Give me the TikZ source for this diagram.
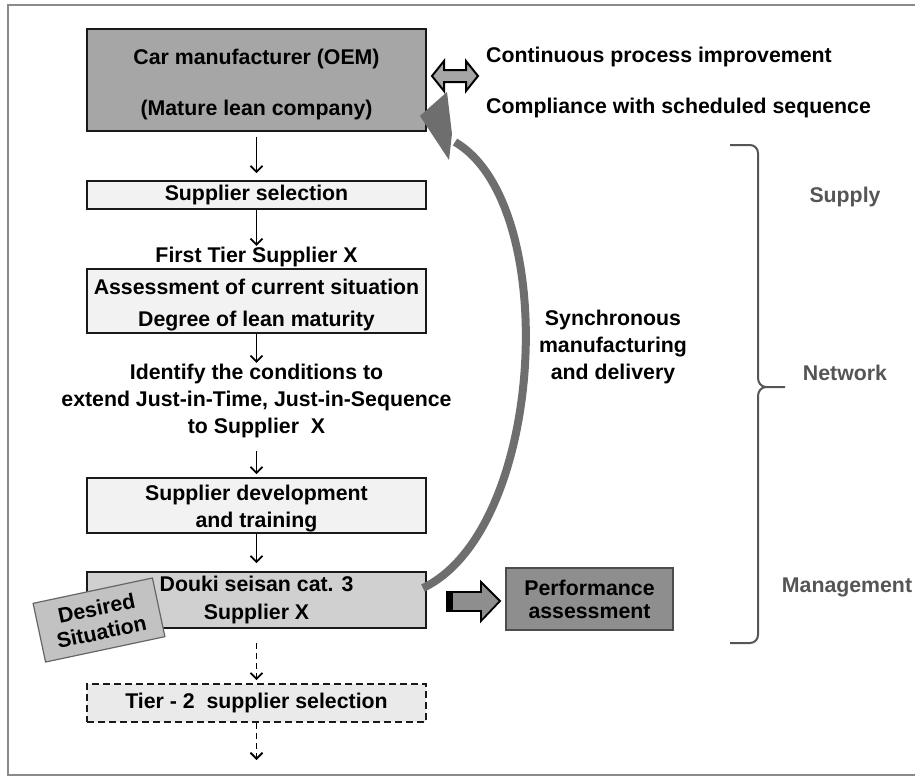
\documentclass[tikz,border=0pt]{standalone}
\usepackage{fontspec}
\setmainfont{Liberation Sans}
\usetikzlibrary{arrows.meta}
\definecolor{oemgray}{HTML}{A6A6A6}
\definecolor{lightbox}{HTML}{F2F2F2}
\definecolor{tierbox}{HTML}{EAEAEA}
\definecolor{doukigray}{HTML}{D0D0D0}
\definecolor{perfgray}{HTML}{8E8E8E}
\definecolor{tagray}{HTML}{C2C2C2}
\definecolor{curvegray}{HTML}{6E6E6E}
\definecolor{labgray}{HTML}{555555}
\definecolor{framegray}{HTML}{8A8A8A}
\tikzset{
  txt/.style={font=\fontsize{21.3pt}{25pt}\selectfont\bfseries, align=center, inner sep=0pt},
  flowbox/.style={txt, draw=black!90, line width=1.8pt, minimum width=339pt},
  dashbox/.style={txt, draw=black!90, line width=1.6pt, dash pattern=on 7pt off 4pt, minimum width=339pt},
  flowarrow/.style={line width=1.8pt, -{Straight Barb[length=6pt,width=12pt]}},
  dasharrow/.style={flowarrow, dash pattern=on 6pt off 4pt},
  sidelab/.style={txt, text=labgray},
}
\begin{document}
\begin{tikzpicture}[x=1pt,y=-1pt]
\useasboundingbox (0,0) rectangle (915,777);
% frame
\draw[framegray, line width=2.5pt] (930,5) -- (8,5) -- (8,775) -- (930,775);

% main flow
\node[flowbox, fill=oemgray, minimum height=102pt] (oem) at (256.5,80)
  {\rule{0pt}{24pt}Car manufacturer (OEM)\\[26pt](Mature lean company)};
\node[flowbox, fill=lightbox, minimum height=28pt] (supsel) at (256.5,195) {Supplier selection};
\node[txt] (first) at (256.5,257) {First Tier Supplier X};
\node[flowbox, fill=lightbox, minimum height=64pt] (assess) at (256.5,301)
  {\rule{0pt}{23pt}Assessment of current situation\\[7pt]Degree of lean maturity};
\node[txt] (identify) at (256.5,401)
  {Identify the conditions to\\[2pt]extend Just-in-Time, Just-in-Sequence\\[2pt]to Supplier\ \ X};
\node[flowbox, fill=lightbox, minimum height=55pt] (dev) at (256.5,505.5)
  {\rule{0pt}{21pt}Supplier development\\[2pt]and training};
\node[flowbox, fill=doukigray, minimum height=56pt] (douki) at (256.5,600)
  {Douki seisan cat. 3\\[3pt]Supplier X};
\node[dashbox, fill=tierbox, minimum height=38pt] (tier2) at (256.5,703)
  {Tier - 2\ \ supplier selection};
\coordinate (endflow) at (256.5,760);

\node[txt, draw=black!60, line width=1.2pt, fill=tagray, rotate=12,
  minimum width=122pt, minimum height=60pt] (desired) at (99,620)
  {Desired\\[-1pt]Situation};

% flow arrows
\draw[flowarrow, shorten <=5pt, shorten >=7pt] (oem) -- (supsel);
\draw[flowarrow, shorten >=1pt] (supsel) -- (first);
\draw[flowarrow, shorten >=1pt] (assess) -- (identify.north);
\draw[flowarrow, shorten <=13pt, shorten >=3pt] (identify) -- (dev);
\draw[flowarrow, shorten >=8pt] (dev) -- (douki);
\draw[dasharrow, shorten <=14pt, shorten >=3pt] (douki) -- (tier2);
\draw[dasharrow] (tier2) -- (endflow);

% top right texts and double arrow
\node[txt, anchor=west] (cpi) at (486,57) {Continuous process improvement};
\node[txt, anchor=west] (csq) at (486,108) {Compliance with scheduled sequence};
\draw[fill=oemgray, draw=black, line width=2pt, line join=miter]
  (432,76) -- (444,61) -- (444,70) -- (466,70) -- (466,61) -- (478,76)
  -- (466,91) -- (466,82) -- (444,82) -- (444,91) -- cycle;

% big curved arrow
\coordinate (curveend) at (455,142);
\draw[curvegray, line width=8pt]
  ([shift={(-4,-12)}]douki.east) .. controls (545,530) and (562,205) .. (curveend);
\fill[curvegray, line join=round] ([shift={(-7,-16)}]oem.south east) -- (447,92) -- (452,134) -- (449,160) -- cycle;

\node[txt] (sync) at (613,347) {Synchronous\\[2pt]manufacturing\\[2pt]and delivery};

% performance
\node[txt, draw=black!70, line width=1.2pt, fill=perfgray, minimum width=167pt, minimum height=62pt] (perf) at (589.5,599)
  {Performance\\[-2pt]assessment};
\draw[fill=perfgray, draw=black, line width=1.8pt, line join=miter]
  (452,592) -- (481,592) -- (481,582) -- (500,601) -- (481,621) -- (481,611) -- (452,611) -- cycle;
\fill[black] (446,591) rectangle (453,612);

% bracket
\draw[labgray, line width=2pt, line join=round]
  (730,145) -- (750,145) to[out=0,in=90] (758,153) -- (758,378)
  to[out=-90,in=180] (766,387) -- (785,387);
\draw[labgray, line width=2pt, line join=round]
  (766,387) to[out=180,in=90] (758,396) -- (758,635)
  to[out=-90,in=0] (750,643) -- (730,643);

\node[sidelab] (supply) at (845,197) {Supply};
\node[sidelab] (network) at (845,373) {Network};
\node[sidelab] (mgmt) at (847,587) {Management};
\end{tikzpicture}
\end{document}
